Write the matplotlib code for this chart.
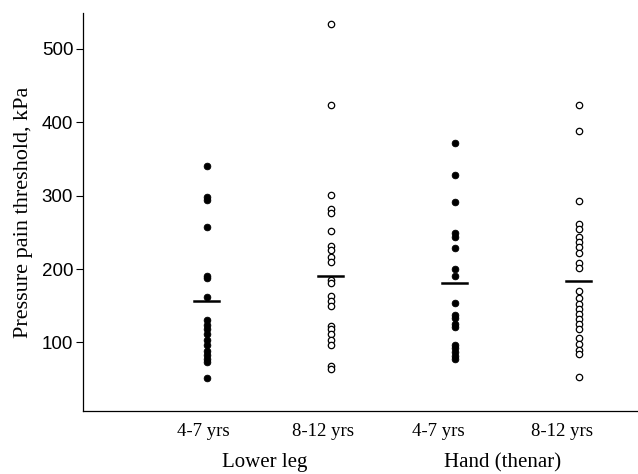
import matplotlib
matplotlib.use("Agg")
import matplotlib.pyplot as plt
import matplotlib.transforms as mtransforms
import numpy as np

# pressure pain thresholds (kPa)
leg_young = [340, 298, 294, 257, 191, 188, 162, 131, 124, 118, 111, 104, 97,
             88, 83, 78, 73, 52]
leg_old = [534, 423, 301, 282, 276, 252, 232, 226, 216, 210, 185, 181, 163,
           156, 150, 123, 118, 112, 104, 97, 68, 64]
hand_young = [372, 328, 291, 249, 243, 228, 200, 191, 154, 137, 133, 125, 121,
              97, 92, 87, 82, 78]
hand_old = [424, 388, 293, 262, 255, 244, 237, 230, 222, 208, 201, 170, 161,
            153, 146, 139, 132, 125, 118, 106, 98, 90, 84, 53]
medians = [156, 191, 181, 184]

groups = [leg_young, leg_old, hand_young, hand_old]
filled = [True, False, True, False]
tick_labels = ["4-7 yrs", "8-12 yrs", "4-7 yrs", "8-12 yrs"]
region_labels = ["Lower leg", "Hand (thenar)"]

serif = "Liberation Serif"

fig = plt.figure(figsize=(6.38, 4.74), dpi=100)
ax = fig.add_axes([0.130, 0.133, 0.870, 0.840])

pos = np.arange(1, 5)
for i, vals in enumerate(groups):
    x = np.full(len(vals), pos[i])
    if filled[i]:
        ax.plot(x, vals, "o", ms=4.8, mfc="black", mec="black", mew=0.6)
    else:
        ax.plot(x, vals, "o", ms=4.6, mfc="white", mec="black", mew=0.9)
    ax.plot([pos[i] - 0.1, pos[i] + 0.1], [medians[i]] * 2, color="black", lw=1.8)

ax.set_xlim(0, 4.48)
ax.set_ylim(6.7, 549)
ax.set_yticks([100, 200, 300, 400, 500])
ax.tick_params(axis="y", direction="out", length=5, width=0.8, pad=2, labelsize=13.5)
for lab in ax.get_yticklabels():
    lab.set_family("Liberation Sans")

ax.set_xticks(pos - np.array([0.03, 0.06, 0.13, 0.13]))
ax.set_xticklabels(tick_labels, family=serif, fontsize=13.5)
ax.tick_params(axis="x", length=0, pad=9)

ax.spines["top"].set_visible(False)
ax.spines["right"].set_visible(False)
ax.spines["left"].set_linewidth(0.9)
ax.spines["bottom"].set_linewidth(0.9)

ax.set_ylabel("Pressure pain threshold, kPa", family=serif, fontsize=16, labelpad=6)

trans = mtransforms.blended_transform_factory(ax.transData, ax.transAxes)
ax.text(1.47, -0.13, region_labels[0], transform=trans, ha="center", va="center",
        family=serif, fontsize=15)
ax.text(3.39, -0.13, region_labels[1], transform=trans, ha="center", va="center",
        family=serif, fontsize=15)

fig.savefig("out.png", dpi=100)
